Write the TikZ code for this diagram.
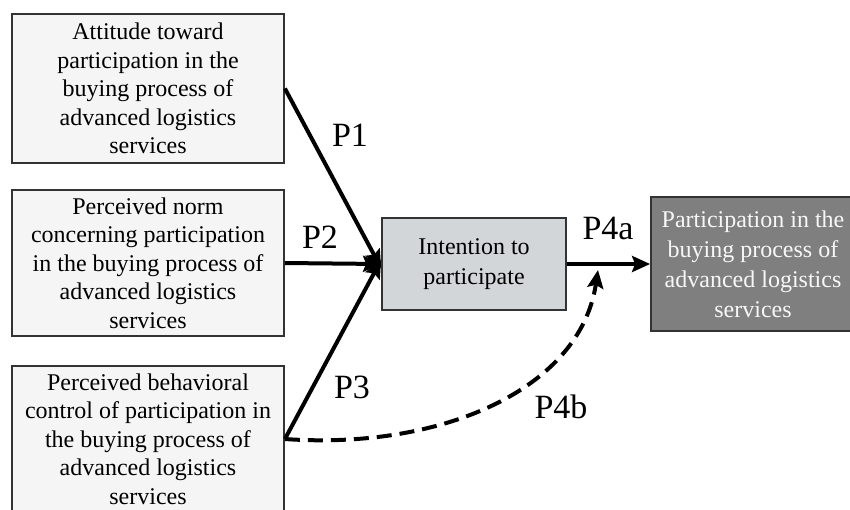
\documentclass[tikz,border=0pt]{standalone}
\usepackage{fontspec}
\setmainfont{Liberation Serif}
\usetikzlibrary{arrows.meta}
\definecolor{factorfill}{RGB}{245,245,245}
\definecolor{intfill}{RGB}{211,214,217}
\definecolor{outfill}{RGB}{127,127,127}
\begin{document}
\begin{tikzpicture}[x=.5pt, y=-.5pt,
	box/.style={draw=black!80, line width=.9pt, align=center, inner sep=0pt},
	factor/.style={box, fill=factorfill, minimum width=136pt, font=\fontsize{12}{14.2}\selectfont},
	path/.style={line width=2pt, -{Stealth[length=9pt, width=8pt, inset=1.5pt]}},
	plabel/.style={font=\fontsize{17}{19}\selectfont}]
	\useasboundingbox (0,0) rectangle (850,509);
	\node[factor, minimum height=74.5pt] (att) at (148,88.5) {Attitude toward\\participation in the\\buying process of\\advanced logistics\\services};
	\node[factor, minimum height=73pt]   (norm) at (148,263) {Perceived norm\\concerning participation\\in the buying process of\\advanced logistics\\services};
	\node[factor, minimum height=73pt]   (ctrl) at (148,439) {Perceived behavioral\\control of participation in\\the buying process of\\advanced logistics\\services};
	\node[box, fill=intfill, minimum width=92pt, minimum height=46pt, font=\fontsize{12}{15}\selectfont] (int) at (474,264) {Intention to\\participate};
	\node[box, fill=outfill, text=black!3, minimum width=102pt, minimum height=67pt, font=\fontsize{12}{15}\selectfont] (part) at (753,264) {Participation in the\\buying process of\\advanced logistics\\services};
	\coordinate (p4bend) at (598,270);
	\draw[path] (att.east) -- ([yshift=-2pt]int.west);
	\draw[path] (norm.east) -- (int.west);
	\draw[path] (ctrl.east) -- ([yshift=2pt]int.west);
	\draw[path] (int.east) -- (part.west);
	\draw[path, dash pattern=on 7.5pt off 4pt] (ctrl.east) .. controls (440,450) and (580,390) .. (p4bend);
	\node[plabel] (p1) at (350,135) {P1};
	\node[plabel] (p2) at (320,237) {P2};
	\node[plabel] (p3) at (352,387) {P3};
	\node[plabel] (p4a) at (608,228) {P4a};
	\node[plabel] (p4b) at (561,407) {P4b};
\end{tikzpicture}
\end{document}
